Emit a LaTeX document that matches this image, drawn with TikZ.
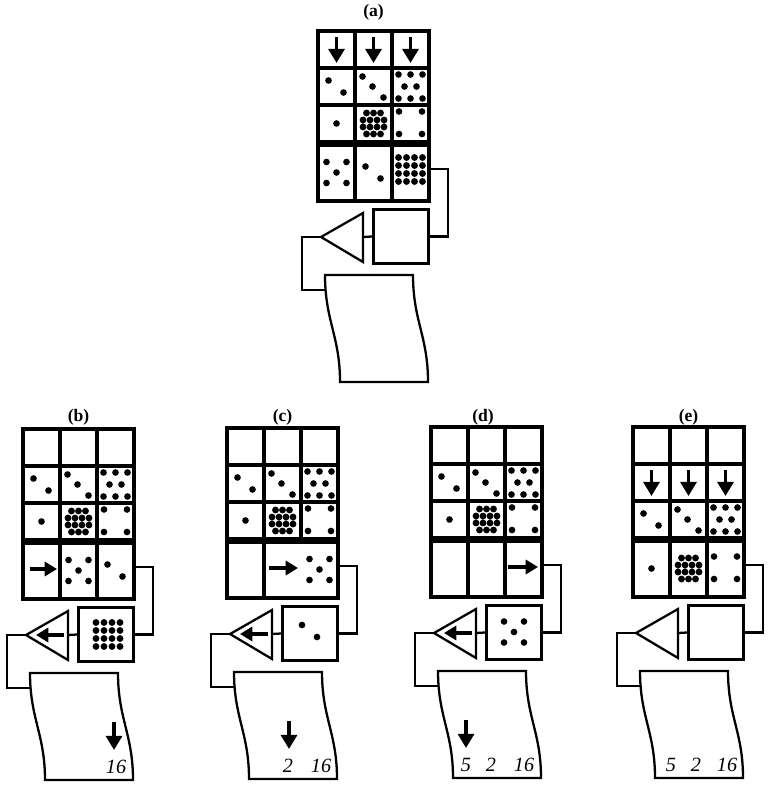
\documentclass[tikz,border=0pt]{standalone}
\usepackage{fontspec}
\setmainfont{Liberation Serif}
\usetikzlibrary{arrows.meta}

\tikzset{
  cellline/.style={line width=2pt},
  thinline/.style={line width=1.3pt},
  dish/.style={draw, line width=1.7pt, minimum width=1.1cm, minimum height=1.08cm, inner sep=0pt},
  bigarrow/.style={line width=2.2pt, -{Triangle[length=8pt,width=9pt]}},
  midarrow/.style={line width=2pt, -{Triangle[length=7pt,width=8pt]}},
  num/.style={font=\itshape\fontsize{11.5}{11.5}\selectfont},
  panellabel/.style={font=\bfseries\fontsize{10}{10}\selectfont},
}

% dot patterns, centred on a cell
\newcommand{\dotsone}[1]{\fill[shift={(#1)}] (0,0) circle[radius=1.9pt];}
\newcommand{\dotstwo}[1]{\fill[shift={(#1)}] (-8,-6) circle[radius=1.9pt] (7,6) circle[radius=1.9pt];}
\newcommand{\dotsthree}[1]{\fill[shift={(#1)}] (-11,-10) circle[radius=1.9pt] (-1,0) circle[radius=1.9pt] (10,11) circle[radius=1.9pt];}
\newcommand{\dotsfour}[1]{\fill[shift={(#1)}] (-11.5,-12) circle[radius=1.9pt] (11.5,-12) circle[radius=1.9pt] (-11.5,10.5) circle[radius=1.9pt] (11.5,10.5) circle[radius=1.9pt];}
\newcommand{\dotsfive}[1]{\fill[shift={(#1)}] (-10,-10.5) circle[radius=1.9pt] (10,-10.5) circle[radius=1.9pt] (0,0) circle[radius=1.9pt] (-10,10.5) circle[radius=1.9pt] (10,10.5) circle[radius=1.9pt];}
\newcommand{\dotseight}[1]{\fill[shift={(#1)}] (-12,-12) circle[radius=1.9pt] (0,-12) circle[radius=1.9pt] (12,-12) circle[radius=1.9pt]
  (-6,0) circle[radius=1.9pt] (6,0) circle[radius=1.9pt]
  (-12,12) circle[radius=1.9pt] (0,12) circle[radius=1.9pt] (12,12) circle[radius=1.9pt];}
\newcommand{\dotsgrid}[1]{\foreach \gx in {-12,-4,4,12}{\foreach \gy in {-12,-4,4,12}{\fill[shift={(#1)}] (\gx,\gy) circle[radius=1.95pt];}}}
\newcommand{\dotsclump}[1]{%
  \foreach \gx in {-7,0,7}{\fill[shift={(#1)}] (\gx,-10.5) circle[radius=1.95pt] (\gx,10.5) circle[radius=1.95pt];}
  \foreach \gx in {-10.5,-3.5,3.5,10.5}{\fill[shift={(#1)}] (\gx,-3.5) circle[radius=1.95pt] (\gx,3.5) circle[radius=1.95pt];}}

% grid, card row, dish, triangle, paper and their connectors
\newcommand{\mechanism}[2]{%
  \draw[cellline] (0,0) rectangle (111,111);
  \draw[cellline] (37,0) -- (37,111);
  \draw[cellline] (74,0) -- (74,111);
  \draw[cellline] (0,37) -- (111,37);
  \draw[cellline] (0,74) -- (111,74);
  % card row
  \draw[cellline] (0,114) rectangle (111,170);
  \foreach \xd in {#2}{\draw[cellline] (\xd,114) -- (\xd,170);}
  % dish and triangle
  \node[dish] (#1dish) at (83,205.5) {};
  \draw[thinline] (3,206) coordinate (#1apex) -- (45,182) -- (45,231) -- cycle;
  \coordinate (#1base) at (45,206);
  % paper
  \draw[thinline] (22,351) -- (110,351) .. controls (110,305) and (95,290) .. (95,244)
    -- (7,244) .. controls (7,290) and (22,305) .. (22,351) -- cycle;
  \coordinate (#1cardout) at (111,138);
  \coordinate (#1paperin) at (7.5,259);
  % connectors
  \draw[thinline] (#1cardout) -- ++(19,0) |- (#1dish.east);
  \draw[thinline] (#1base) -- (#1dish.west);
  \draw[thinline] (#1apex) -- ++(-19,0) |- (#1paperin);
}

\begin{document}
\begin{tikzpicture}[x=0.02cm, y=-0.02cm]
  \useasboundingbox (0,0) rectangle (768,786);

  % (a)
  \begin{scope}[shift={(318,31)}]
    \mechanism{a}{37,74}
    \node[panellabel] (alabel) at (55.5,-19) {(a)};
    \draw[bigarrow] (18.5,6) -- (18.5,32);
    \draw[bigarrow] (55.5,6) -- (55.5,32);
    \draw[bigarrow] (92.5,6) -- (92.5,32);
    \dotstwo{18.5,55.5} \dotsthree{55.5,55.5} \dotseight{92.5,55.5}
    \dotsone{18.5,92.5} \dotsclump{55.5,92.5} \dotsfour{92.5,92.5}
    \dotsfive{18.5,141.5} \dotstwo{55.5,141.5} \dotsgrid{92.5,138.5}
  \end{scope}

  % (b)
  \begin{scope}[shift={(23,429)}]
    \mechanism{b}{37,74}
    \node[panellabel] (blabel) at (55.5,-12) {(b)};
    \dotstwo{18.5,55.5} \dotsthree{55.5,55.5} \dotseight{92.5,55.5}
    \dotsone{18.5,92.5} \dotsclump{55.5,92.5} \dotsfour{92.5,92.5}
    \draw[midarrow] (7,140) -- (34,140);
    \dotsfive{55.5,141.5} \dotstwo{92.5,141.5}
    \dotsgrid{85,205.5}
    \draw[midarrow] (41,206) -- (13,206);
    \draw[bigarrow] (91,293) -- (91,321);
    \node[num] (b16) at (93,338) {16};
  \end{scope}

  % (c)
  \begin{scope}[shift={(227,428)}]
    \mechanism{c}{37}
    \node[panellabel] (clabel) at (55.5,-11) {(c)};
    \dotstwo{18.5,55.5} \dotsthree{55.5,55.5} \dotseight{92.5,55.5}
    \dotsone{18.5,92.5} \dotsclump{55.5,92.5} \dotsfour{92.5,92.5}
    \draw[midarrow] (42,140) -- (71,140);
    \dotsfive{92.5,141.5}
    \fill (75,197) circle[radius=1.9pt] (90,209) circle[radius=1.9pt];
    \draw[midarrow] (41,206) -- (13,206);
    \draw[bigarrow] (62,293) -- (62,321);
    \node[num] (c2) at (61,338) {2};
    \node[num] (c16) at (94,338) {16};
  \end{scope}

  % (d)
  \begin{scope}[shift={(431,427)}]
    \mechanism{d}{37,74}
    \node[panellabel] (dlabel) at (52,-10) {(d)};
    \dotstwo{18.5,55.5} \dotsthree{55.5,55.5} \dotseight{92.5,55.5}
    \dotsone{18.5,92.5} \dotsclump{55.5,92.5} \dotsfour{92.5,92.5}
    \draw[midarrow] (77,140) -- (107,140);
    \dotsfive{83,205}
    \draw[midarrow] (41,206) -- (13,206);
    \draw[bigarrow] (35,293) -- (35,321);
    \node[num] (d5) at (35,338) {5};
    \node[num] (d2) at (60,338) {2};
    \node[num] (d16) at (93,338) {16};
  \end{scope}

  % (e)
  \begin{scope}[shift={(633,427)}]
    \mechanism{e}{37,74}
    \node[panellabel] (elabel) at (55.5,-10) {(e)};
    \draw[bigarrow] (18.5,43) -- (18.5,69);
    \draw[bigarrow] (55.5,43) -- (55.5,69);
    \draw[bigarrow] (92.5,43) -- (92.5,69);
    \dotstwo{18.5,92.5} \dotsthree{55.5,92.5} \dotseight{92.5,92.5}
    \dotsone{18.5,141.5} \dotsclump{55.5,141.5} \dotsfour{92.5,141.5}
    \node[num] (e5) at (38,338) {5};
    \node[num] (e2) at (63,338) {2};
    \node[num] (e16) at (94,338) {16};
  \end{scope}
\end{tikzpicture}
\end{document}
